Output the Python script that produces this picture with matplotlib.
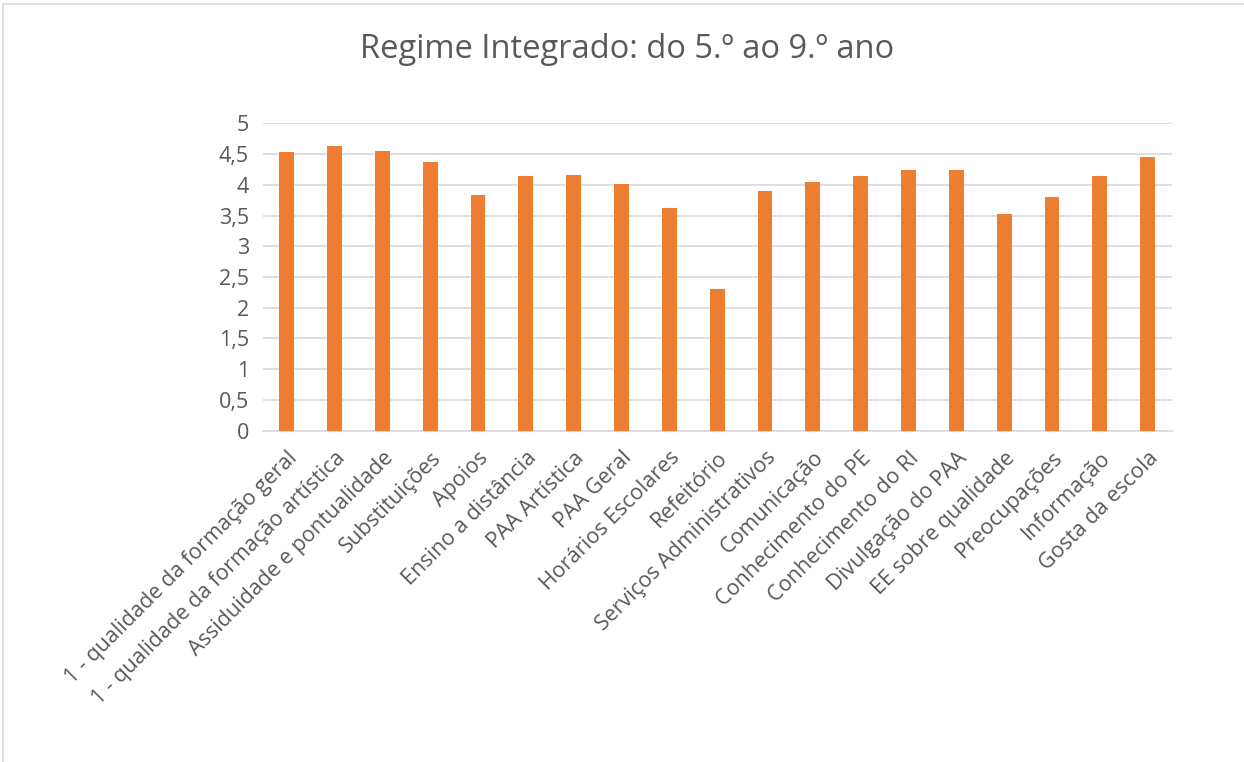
import matplotlib
matplotlib.use("Agg")
import matplotlib.pyplot as plt
from matplotlib.patches import Rectangle
from matplotlib.ticker import FuncFormatter

categories = [
    "1 - qualidade da formação geral",
    "1 - qualidade da formação artística",
    "Assiduidade e pontualidade",
    "Substituições",
    "Apoios",
    "Ensino a distância",
    "PAA Artística",
    "PAA Geral",
    "Horários Escolares",
    "Refeitório",
    "Serviços Administrativos",
    "Comunicação",
    "Conhecimento do PE",
    "Conhecimento do RI",
    "Divulgação do PAA",
    "EE sobre qualidade",
    "Preocupações",
    "Informação",
    "Gosta da escola",
]
values = [4.53, 4.63, 4.545, 4.365, 3.83, 4.15, 4.165, 4.02, 3.63, 2.30,
          3.90, 4.045, 4.14, 4.235, 4.245, 3.53, 3.795, 4.15, 4.445]
yticks = [0, 0.5, 1, 1.5, 2, 2.5, 3, 3.5, 4, 4.5, 5]
title = "Regime Integrado: do 5.º ao 9.º ano"

TEXT = "#595959"
GRID = "#d9d9d9"
BAR = "#ED7D31"
FONT = ["Open Sans", "DejaVu Sans"]
plt.rcParams["font.family"] = FONT

fig = plt.figure(figsize=(12.44, 7.62), dpi=100)
fig.patches.append(Rectangle((3 / 1244, -0.1), 2, 1 - 4 / 762 + 0.1,
                             transform=fig.transFigure, fill=False,
                             edgecolor=GRID, linewidth=1.2, zorder=0))

ax = fig.add_axes([262.8 / 1244, 1 - 430.7 / 762, (1171.6 - 262.8) / 1244,
                   (430.7 - 123.3) / 762])
x = list(range(len(categories)))
ax.bar(x, values, width=0.31, color=BAR, zorder=3)
ax.set_xlim(-0.5, len(categories) - 0.5)
ax.set_ylim(0, 5)
ax.set_yticks(yticks)
ax.yaxis.set_major_formatter(FuncFormatter(lambda v, p: f"{v:g}".replace(".", ",")))
ax.grid(axis="y", color=GRID, linewidth=1.2, zorder=0)
for s in ["top", "right", "left"]:
    ax.spines[s].set_visible(False)
ax.spines["bottom"].set_color(GRID)
ax.spines["bottom"].set_linewidth(1.2)
ax.tick_params(axis="y", length=0, pad=10, labelsize=15.5, labelcolor=TEXT)
ax.tick_params(axis="x", length=0, pad=12, labelsize=15.5, labelcolor=TEXT)
ax.set_xticks(x)
ax.set_xticklabels(categories, rotation=45, ha="right", rotation_mode="anchor")

fig.text(627 / 1244, 1 - 50 / 762, title, ha="center", va="center",
         fontsize=23.5, color=TEXT)

fig.savefig("out.png", dpi=100, facecolor="white")
